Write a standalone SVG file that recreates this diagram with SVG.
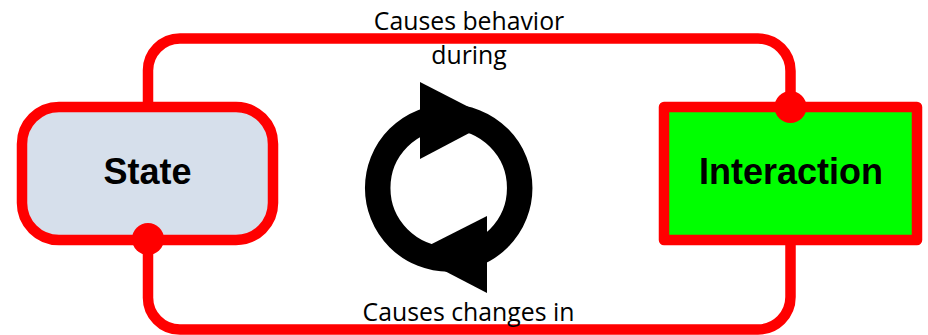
<svg xmlns="http://www.w3.org/2000/svg" width="928" height="335" viewBox="0 0 928 335">
<style>
.node{stroke:#f00;stroke-width:10.500;stroke-linejoin:round}
.conn{fill:none;stroke:#f00;stroke-width:10.500}
.nl{font-family:"Liberation Sans",Arial,sans-serif;font-weight:700;font-size:36px;text-anchor:middle;fill:#000}
.el{font-family:"Open Sans","Noto Sans",sans-serif;font-size:24.800px;text-anchor:middle;fill:#000}
</style>
<defs>
<marker id="dot" markerUnits="userSpaceOnUse" markerWidth="34" markerHeight="34" refX="17" refY="17" orient="auto"><circle cx="17" cy="17" r="16" fill="#f00"/></marker>
</defs>
<rect width="928" height="335" fill="#fff"/>
<g id="state"><rect class="node" x="22" y="107" width="251" height="133" rx="37" fill="#d6dfeb"/><text class="nl" x="147.500" y="184">State</text></g>
<g id="interaction"><rect class="node" x="664" y="107" width="253" height="133" fill="#0f0"/><text class="nl" x="791" y="184">Interaction</text></g>
<g id="cycle" fill="#000">
<circle cx="448.700" cy="188" r="71" fill="none" stroke="#000" stroke-width="25.500"/>
<polygon points="420,82 494,120 420,159"/>
<polygon points="487,216 412,254 487,293"/>
</g>
<g id="connectors">
<path class="conn" d="M148 107V71A32 32 0 0 1 180 38.500H758A32.500 32.500 0 0 1 790.500 71V107" marker-end="url(#dot)"/>
<path class="conn" d="M148 239V297A32 32 0 0 0 180 329.500H758A32.500 32.500 0 0 0 790.500 297V240" marker-start="url(#dot)"/>
</g>
<g id="labels">
<text class="el" x="469" y="30">Causes behavior</text>
<text class="el" x="469" y="64">during</text>
<text class="el" x="468.500" y="321">Causes changes in</text>
</g>
</svg>
